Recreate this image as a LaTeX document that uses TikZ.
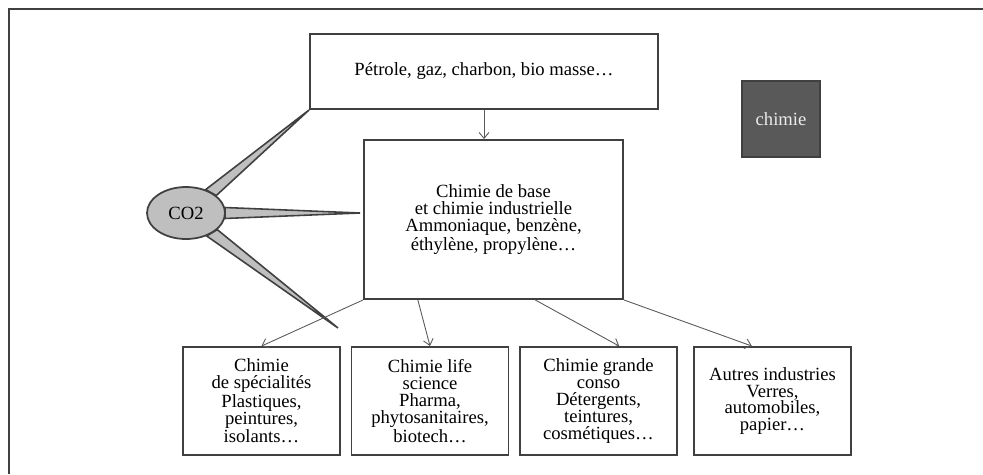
\documentclass[tikz,border=0pt]{standalone}
\usepackage{fontspec}
\setmainfont{Liberation Serif}
\usetikzlibrary{arrows.meta,positioning,shapes.geometric,calc,backgrounds}
\definecolor{boxline}{HTML}{404040}
\definecolor{arrline}{HTML}{595959}
\definecolor{gasfill}{HTML}{BFBFBF}
\definecolor{darkfill}{HTML}{595959}
\tikzset{
  mybox/.style={
    rectangle, draw=boxline, line width=1.1pt, fill=white,
    align=center, inner sep=2pt,
    font=\fontsize{10.6}{9.6}\selectfont
  },
  subbox/.style={
    mybox, minimum width=3.14cm, minimum height=2.16cm
  },
  myarr/.style={
    draw=arrline, line width=0.5pt,
    -{Straight Barb[length=1.2mm,width=2mm]}
  },
  spike/.style={
    fill=gasfill, draw=boxline, line width=0.9pt, line join=miter
  }
}

\begin{document}
\begin{tikzpicture}[x=0.02cm,y=-0.02cm]
\useasboundingbox (0,0) rectangle (983,474);

\draw[boxline, line width=1.2pt] (9,474) -- (9,9) -- (983,9);

\node[mybox, minimum width=6.96cm, minimum height=1.5cm]
at (484,71.5) (src-box)
{Pétrole, gaz, charbon, bio masse…};

\node[mybox, minimum width=5.18cm, minimum height=3.18cm]
at (493.5,219.5) (base-box)
{Chimie de base\\ et chimie industrielle\\ Ammoniaque, benzène,\\ éthylène, propylène…};

\node[mybox, fill=darkfill, text=white!92!black,
  minimum width=1.56cm, minimum height=1.52cm]
at (781,119) (chim-box) {chimie};

\node[subbox] at (261.5,401) (sub-box1)
{Chimie\\ de spécialités\\ Plastiques,\\ peintures,\\ isolants…};
\node[subbox] at (430,401) (sub-box2)
{Chimie life\\ science\\ Pharma,\\ phytosanitaires,\\ biotech…};
\node[subbox] at (598.5,401) (sub-box3)
{Chimie grande\\ conso\\ Détergents,\\ teintures,\\ cosmétiques…};
\node[subbox] at (772.5,401) (sub-box4)
{Autres industries\\ Verres,\\ automobiles,\\ papier…};

\node[ellipse, draw=boxline, fill=gasfill, line width=1pt,
  minimum width=1.56cm, minimum height=1.04cm, inner sep=0pt,
  font=\fontsize{10.6}{9.6}\selectfont]
at (186,213) (co2) {CO2};

\coordinate (tip-b) at (360,213);
\coordinate (tip-c) at (338,328);

% callout spikes of CO2
\begin{scope}[on background layer]
\draw[spike] (co2.30) -- (src-box.south west) -- (co2.50) -- cycle;
\draw[spike] (co2.8) -- (tip-b) -- (co2.-8) -- cycle;
\draw[spike] (co2.-28) -- (tip-c) -- (co2.-48) -- cycle;
\end{scope}

\draw[myarr] (src-box.south) -- (src-box.south |- base-box.north);

\draw[myarr] (base-box.south west) -- (sub-box1.north);
\draw[myarr] ($(base-box.south west)!0.21!(base-box.south east)$) -- (sub-box2.north);
\draw[myarr] ($(base-box.south west)!0.66!(base-box.south east)$)
  -- ($(sub-box3.north west)!0.63!(sub-box3.north east)$);
\draw[myarr] (base-box.south east)
  -- ($(sub-box4.north west)!0.37!(sub-box4.north east)$);

\end{tikzpicture}
\end{document}
